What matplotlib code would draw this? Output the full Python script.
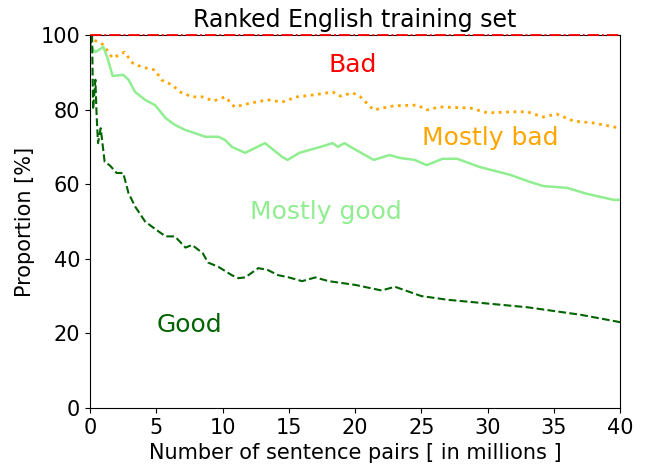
import matplotlib
matplotlib.use("Agg")
import matplotlib.pyplot as plt

# cumulative share of each rank (x in millions of pairs)
good_x = [0, 0.15, 0.23, 0.4, 0.5, 0.6, 0.8, 1.1, 1.5, 2.0, 2.5, 2.9, 3.4, 4.15,
          4.9, 5.7, 6.4, 7.2, 7.7, 8.5, 8.9, 9.7, 10.7, 11.2, 11.7, 12.7, 13.4,
          14.2, 15, 16, 17, 18, 20, 22, 23, 25, 27, 30, 33, 35, 37, 40]
good_y = [97, 100, 80, 88, 78, 71, 75, 66, 65, 63, 63, 57.6, 54, 50,
          48, 46, 46, 43, 43.7, 41.5, 39, 37.8, 35.6, 34.8, 35, 37.5, 37,
          35.6, 35, 34, 35, 34, 33, 31.5, 32.5, 30, 29, 28, 27, 26, 25, 23]

mgood_x = [0, 0.15, 0.4, 1.0, 1.3, 1.7, 2.5, 2.9, 3.4, 4.15, 4.9, 5.7, 6.4, 7.2,
           7.9, 8.7, 9.7, 10.2, 10.7, 11.7, 13.2, 14.5, 14.9, 15.8, 17.4, 18.3,
           18.7, 19.2, 19.8, 21.4, 22.6, 23.4, 24.5, 25.4, 26.6, 27.7, 29.4,
           31.7, 33.2, 34.2, 36, 37.5, 39.5, 40]
mgood_y = [97, 96.5, 95.4, 96.8, 94, 89, 89.3, 88, 84.7, 82.6, 81.2, 77.7, 75.9, 74.5,
           73.7, 72.7, 72.7, 71.8, 70, 68.4, 71, 67.3, 66.5, 68.4, 70, 71,
           70, 71, 69.7, 66.5, 67.8, 67, 66.5, 65.1, 66.8, 66.8, 64.6,
           62.5, 60.6, 59.5, 59, 57.4, 55.8, 55.8]

mbad_x = [0, 0.2, 0.75, 1.0, 1.7, 2.6, 3.2, 3.9, 4.4, 4.9, 5.4, 6.2, 6.8, 7.7,
          8.5, 9.3, 10.2, 10.9, 12.2, 13.4, 14.5, 15.6, 16.8, 18.3, 18.9, 19.8,
          20.4, 21.4, 22.9, 24.7, 25.4, 26.4, 28.7, 30, 31.9, 33, 34.2, 35.2,
          36.5, 38, 40]
mbad_y = [100, 98.7, 98, 97.3, 93.8, 95.4, 92.5, 91.4, 91, 90.6, 87.9, 86.6, 84.7, 83.4,
          83.4, 82.3, 83.4, 80.7, 81.8, 82.6, 82, 83.4, 83.9, 84.7, 83.6, 84.5,
          83.4, 79.9, 81, 81.2, 79.9, 80.7, 80.4, 79.1, 79.4, 79.4, 78, 78.8,
          76.9, 76.4, 75]

bad_x = [0, 40]
bad_y = [100, 100]

fig = plt.figure(figsize=(6.48, 4.66), dpi=100)
ax = fig.add_subplot(111)
fig.subplots_adjust(left=0.139, right=0.957, top=0.925, bottom=0.1245)

ax.plot(bad_x, bad_y, color='red', linestyle='-.', linewidth=1.3, clip_on=False, zorder=5)
ax.plot(mbad_x, mbad_y, color='orange', linestyle=':', linewidth=2)
ax.plot(mgood_x, mgood_y, color='lightgreen', linestyle='-', linewidth=1.8)
ax.plot(good_x, good_y, color='darkgreen', linestyle='--', linewidth=1.5)

ax.text(19.8, 92, 'Bad', color='red', fontsize=18, ha='center', va='center')
ax.text(30.2, 72.4, 'Mostly bad', color='orange', fontsize=18, ha='center', va='center')
ax.text(17.8, 52.5, 'Mostly good', color='lightgreen', fontsize=18, ha='center', va='center')
ax.text(7.5, 22.3, 'Good', color='darkgreen', fontsize=18, ha='center', va='center')

ax.set_xlim(0, 40)
ax.set_ylim(0, 100)
ax.set_title('Ranked English training set', fontsize=17, pad=6)
ax.set_xlabel('Number of sentence pairs [ in millions ]', fontsize=15, labelpad=4)
ax.set_ylabel('Proportion [%]', fontsize=15)
ax.tick_params(labelsize=15)

plt.savefig('out.png')
